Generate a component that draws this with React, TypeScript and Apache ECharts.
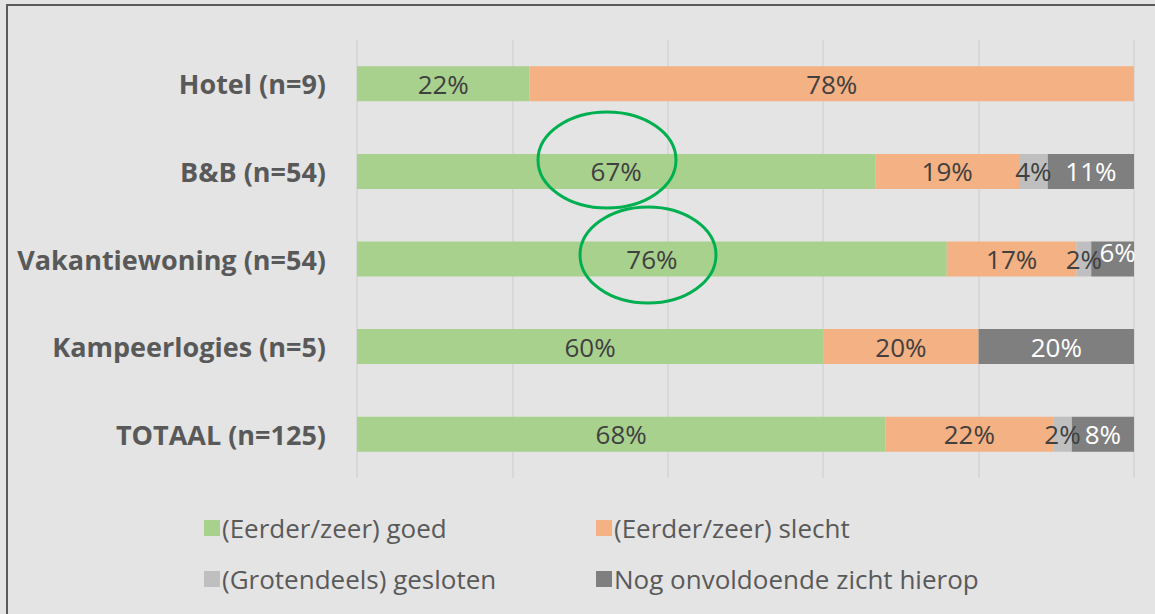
import React, { useEffect, useRef } from "react";
import * as echarts from "echarts";

const categories = ["Hotel (n=9)", "B&B (n=54)", "Vakantiewoning (n=54)", "Kampeerlogies (n=5)", "TOTAAL (n=125)"];
const seriesNames = ["(Eerder/zeer) goed", "(Eerder/zeer) slecht", "(Grotendeels) gesloten", "Nog onvoldoende zicht hierop"];
const goed = [22.2, 66.7, 75.9, 60, 68];
const slecht = [77.8, 18.5, 16.7, 20, 21.6];
const gesloten = [0, 3.7, 1.9, 0, 2.4];
const onvoldoende = [0, 11.1, 5.6, 20, 8];
const colors = ["#a9d18e", "#f4b183", "#bfbfbf", "#7f7f7f"];
const labelColors = ["#404040", "#404040", "#404040", "#ffffff"];
const xTicks = [0, 20, 40, 60, 80, 100];

export default function App() {
  const ref = useRef<HTMLDivElement>(null);
  useEffect(() => {
    document.body.style.margin = "0";
    if (!ref.current) return;
    const chart = echarts.init(ref.current, null, { renderer: "svg" });
    const allData = [goed, slecht, gesloten, onvoldoende];
    const series = allData.map((arr, si) => ({
      name: seriesNames[si],
      type: "bar",
      stack: "total",
      barWidth: 35,
      itemStyle: { color: colors[si] },
      label: {
        show: true,
        position: "inside",
        color: labelColors[si],
        fontFamily: "Open Sans",
        fontSize: 26,
        formatter: (p: any) => (p.value > 0 ? Math.round(p.value) + "%" : ""),
      },
      data: arr.map((v, i) => {
        if (si === 3 && i === 2) {
          return { value: v, label: { offset: [5, -7] } };
        }
        return v;
      }),
    }));
    const legendCommon = {
      orient: "vertical",
      top: 515,
      padding: 0,
      itemWidth: 16,
      itemHeight: 16,
      itemGap: 25,
      icon: "rect",
      textStyle: { color: "#595959", fontFamily: "Open Sans", fontSize: 26, padding: [0, 0, 0, -3] },
    };
    chart.setOption({
      animation: false,
      backgroundColor: "#e4e4e4",
      grid: { left: 357, right: 21, top: 40, bottom: 136 },
      xAxis: {
        type: "value",
        min: xTicks[0],
        max: xTicks[xTicks.length - 1],
        interval: 20,
        axisLabel: { show: false },
        axisLine: { show: false },
        axisTick: { show: false },
        splitLine: { lineStyle: { color: "#d5d5d5", width: 1.5 } },
      },
      yAxis: {
        type: "category",
        data: categories,
        inverse: true,
        axisLine: { show: false },
        axisTick: { show: false },
        axisLabel: {
          margin: 31,
          color: "#595959",
          fontFamily: "Open Sans",
          fontWeight: "bold",
          fontSize: 27,
        },
      },
      legend: [
        { ...legendCommon, data: [seriesNames[0], seriesNames[2]], left: 204 },
        { ...legendCommon, data: [seriesNames[1], seriesNames[3]], left: 596 },
      ],
      graphic: [
        {
          type: "rect",
          shape: { x: 7, y: 5, width: 1300, height: 800 },
          style: { fill: "none", stroke: "#5a5a5a", lineWidth: 2 },
          silent: true,
          z: 100,
        },
        {
          type: "ellipse",
          shape: { cx: 607, cy: 160, rx: 69, ry: 48 },
          style: { fill: "none", stroke: "#00b050", lineWidth: 3 },
          silent: true,
          z: 100,
        },
        {
          type: "ellipse",
          shape: { cx: 648, cy: 255, rx: 68, ry: 48 },
          style: { fill: "none", stroke: "#00b050", lineWidth: 3 },
          silent: true,
          z: 100,
        },
      ],
      series,
    });
    return () => chart.dispose();
  }, []);
  return <div ref={ref} style={{ width: 1155, height: 614 }} />;
}
